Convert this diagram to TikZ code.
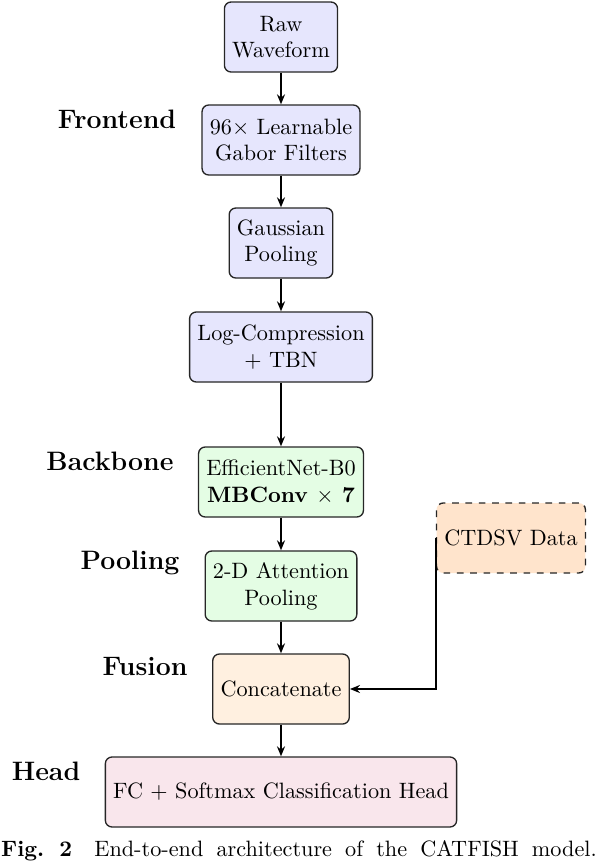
\documentclass[tikz,border=0pt]{standalone}
\usepackage{tikz}
\usetikzlibrary{arrows.meta,positioning}
\definecolor{frontfill}{HTML}{E6E6FD}
\definecolor{backfill}{HTML}{E4FDE4}
\definecolor{fusefill}{HTML}{FFF0E0}
\definecolor{datafill}{HTML}{FFE4CC}
\definecolor{headfill}{HTML}{F9E6EC}

\tikzset{
  block/.style={draw=black!85, semithick, rounded corners=3pt, align=center,
    minimum height=31.5pt, inner sep=3.5pt},
  stagelabel/.style={font=\large\bfseries, inner sep=0.75pt},
  flow/.style={thick, -{Stealth[length=4.5pt,width=3.6pt]}}
}

\begin{document}
\begin{tikzpicture}[x=0.45pt,y=0.45pt,yscale=-1,xscale=1]
\useasboundingbox (0,0) rectangle (598,862);

% Text Node
\node [block, fill=frontfill] (raw) at (281,37) {Raw\\Waveform};
% Text Node
\node [block, fill=frontfill] (gabor) at (281,140) {96$\times$ Learnable\\Gabor Filters};
% Text Node
\node [block, fill=frontfill] (gauss) at (281,243) {Gaussian\\Pooling};
% Text Node
\node [block, fill=frontfill] (logc) at (281,347) {Log-Compression\\+ TBN};
% Text Node
\node [block, fill=backfill] (effnet) at (281,482) {EfficientNet-B0\\\textbf{MBConv $\times$ 7}};
% Text Node
\node [block, fill=backfill] (attn) at (281,586) {2-D Attention\\Pooling};
% Text Node
\node [block, fill=fusefill] (concat) at (281,689) {Concatenate};
% Text Node
\node [block, fill=headfill, minimum width=157.5pt] (head) at (281,792) {FC + Softmax Classification Head};
% Text Node
\node [block, fill=datafill, dashed] (ctdsv) at (511,538) {CTDSV Data};

% Text Node
\node [stagelabel] (frontend) at (117,119) {Frontend};
\node [stagelabel] (backbone) at (110,461) {Backbone};
\node [stagelabel] (pooling) at (130,563) {Pooling};
\node [stagelabel] (fusion) at (145,666) {Fusion};
\node [stagelabel] (headlbl) at (46,771) {Head};

%Straight Lines
\draw [flow] (raw) -- (gabor);
\draw [flow] (gabor) -- (gauss);
\draw [flow] (gauss) -- (logc);
\draw [flow] (logc) -- (effnet);
\draw [flow] (effnet) -- (attn);
\draw [flow] (attn) -- (concat);
\draw [flow] (concat) -- (head);
\draw [flow] (ctdsv.west) |- (concat.east);

% Text Node
\node [inner sep=0pt] (caption) at (299,851) {\makebox[268pt][s]{\textbf{Fig.\ 2}\hspace{1em}End-to-end architecture of the CATFISH model.}};

\end{tikzpicture}
\end{document}
